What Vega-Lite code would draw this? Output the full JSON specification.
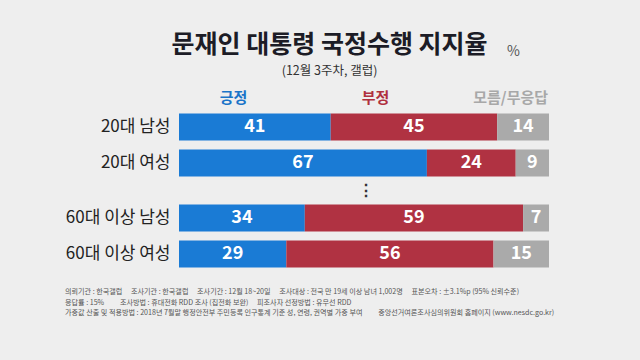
{
  "$schema": "https://vega.github.io/schema/vega-lite/v6.json",
  "background": "#eeeeee",
  "padding": {"left": 65, "top": 33, "right": 92, "bottom": 43},
  "title": {
    "text": "문재인 대통령 국정수행 지지율",
    "subtitle": "(12월 3주차, 갤럽)",
    "font": "Noto Sans CJK KR",
    "fontSize": 25,
    "fontWeight": "bold",
    "color": "#1c1c26",
    "subtitleFont": "Noto Sans CJK KR",
    "subtitleFontSize": 12.5,
    "subtitleColor": "#333333",
    "subtitlePadding": 7,
    "anchor": "middle",
    "frame": "bounds",
    "dx": 20,
    "offset": -33
  },
  "config": {
    "view": {"stroke": null},
    "font": "Noto Sans CJK KR",
    "axis": {"grid": false, "domain": false, "ticks": false}
  },
  "spacing": 0,
  "datasets": {
    "top": [
      {"group": "20대 남성", "cat": "pos", "value": 41},
      {"group": "20대 남성", "cat": "neg", "value": 45},
      {"group": "20대 남성", "cat": "dk", "value": 14},
      {"group": "20대 여성", "cat": "pos", "value": 67},
      {"group": "20대 여성", "cat": "neg", "value": 24},
      {"group": "20대 여성", "cat": "dk", "value": 9}
    ],
    "bottom": [
      {"group": "60대 이상 남성", "cat": "pos", "value": 34},
      {"group": "60대 이상 남성", "cat": "neg", "value": 59},
      {"group": "60대 이상 남성", "cat": "dk", "value": 7},
      {"group": "60대 이상 여성", "cat": "pos", "value": 29},
      {"group": "60대 이상 여성", "cat": "neg", "value": 56},
      {"group": "60대 이상 여성", "cat": "dk", "value": 15}
    ]
  },
  "vconcat": [
    {
      "width": 370,
      "height": {"step": 36},
      "title": {"text": "%", "anchor": "start", "frame": "group", "dx": 328, "fontSize": 14, "fontWeight": "normal", "color": "#555555", "offset": 31.5},
      "data": {"name": "top"},
      "transform": [
        {"stack": "value", "groupby": ["group"], "sort": [{"field": "cat", "order": "descending"}], "as": ["x0", "x1"]},
        {"calculate": "(datum.x0 + datum.x1) / 2", "as": "mid"}
      ],
      "encoding": {
        "y": {
          "field": "group", "type": "nominal", "sort": null, "title": null,
          "scale": {"paddingInner": 0.25, "paddingOuter": 0.125},
          "axis": {"labelFontSize": 17, "labelColor": "#222222", "labelPadding": 9, "minExtent": 114, "maxExtent": 114, "labelLimit": 200}
        }
      },
      "layer": [
        {
          "mark": {"type": "bar"},
          "encoding": {
            "x": {
              "field": "x0", "type": "quantitative", "title": null,
              "scale": {"domain": [0, 100], "nice": false, "zero": true},
              "axis": {
                "orient": "top", "values": [14.6, 53, 89.5],
                "labelExpr": "datum.value < 30 ? '긍정' : (datum.value < 70 ? '부정' : '모름/무응답')",
                "labelFontSize": 15, "labelFontWeight": "bold", "labelPadding": 4,
                "labelColor": {"condition": [{"test": "datum.value < 30", "value": "#1b74c8"}, {"test": "datum.value < 70", "value": "#b0303e"}], "value": "#a8a8a8"}
              }
            },
            "x2": {"field": "x1"},
            "color": {
              "field": "cat", "type": "nominal", "legend": null,
              "scale": {"domain": ["pos", "neg", "dk"], "range": ["#1a7bd5", "#b03242", "#aaaaaa"]}
            }
          }
        },
        {
          "mark": {"type": "text", "color": "white", "fontSize": 18, "fontWeight": "bold"},
          "encoding": {
            "x": {"field": "mid", "type": "quantitative"},
            "text": {"field": "value", "type": "quantitative"}
          }
        }
      ]
    },
    {
      "width": 370,
      "height": {"step": 36},
      "title": {
        "text": [
          "의뢰기관 : 한국갤럽　  조사기관 : 한국갤럽　  조사기간 : 12월 18~20일　  조사대상 : 전국 만 19세 이상 남녀 1,002명　  표본오차 : ±3.1%p (95% 신뢰수준)",
          "응답률 : 15%　　 조사방법 : 휴대전화 RDD 조사 (집전화 보완)　  피조사자 선정방법 : 유무선 RDD",
          "가중값 산출 및 적용방법 : 2018년 7월말 행정안전부 주민등록 인구통계 기준 성, 연령, 권역별 가중 부여　　 중앙선거여론조사심의위원회 홈페이지 (www.nesdc.go.kr)"
        ],
        "orient": "bottom", "anchor": "start", "frame": "bounds",
        "fontSize": 7.1, "fontWeight": "normal", "color": "#555555", "lineHeight": 10.5, "offset": 16
      },
      "data": {"name": "bottom"},
      "transform": [
        {"stack": "value", "groupby": ["group"], "sort": [{"field": "cat", "order": "descending"}], "as": ["x0", "x1"]},
        {"calculate": "(datum.x0 + datum.x1) / 2", "as": "mid"}
      ],
      "encoding": {
        "y": {
          "field": "group", "type": "nominal", "sort": null, "title": null,
          "scale": {"paddingInner": 0.25, "paddingOuter": 0.125},
          "axis": {"labelFontSize": 17, "labelColor": "#222222", "labelPadding": 9, "minExtent": 114, "maxExtent": 114, "labelLimit": 200}
        }
      },
      "layer": [
        {
          "mark": {"type": "bar"},
          "encoding": {
            "x": {
              "field": "x0", "type": "quantitative", "title": null,
              "scale": {"domain": [0, 100], "nice": false, "zero": true},
              "axis": {
                "orient": "top", "values": [50.5],
                "labelExpr": "'⋮'",
                "labelFontSize": 16, "labelFontWeight": "bold", "labelPadding": 2, "labelColor": "#333333",
                "minExtent": 19, "maxExtent": 19
              }
            },
            "x2": {"field": "x1"},
            "color": {
              "field": "cat", "type": "nominal", "legend": null,
              "scale": {"domain": ["pos", "neg", "dk"], "range": ["#1a7bd5", "#b03242", "#aaaaaa"]}
            }
          }
        },
        {
          "mark": {"type": "text", "color": "white", "fontSize": 18, "fontWeight": "bold"},
          "encoding": {
            "x": {"field": "mid", "type": "quantitative"},
            "text": {"field": "value", "type": "quantitative"}
          }
        }
      ]
    }
  ]
}
